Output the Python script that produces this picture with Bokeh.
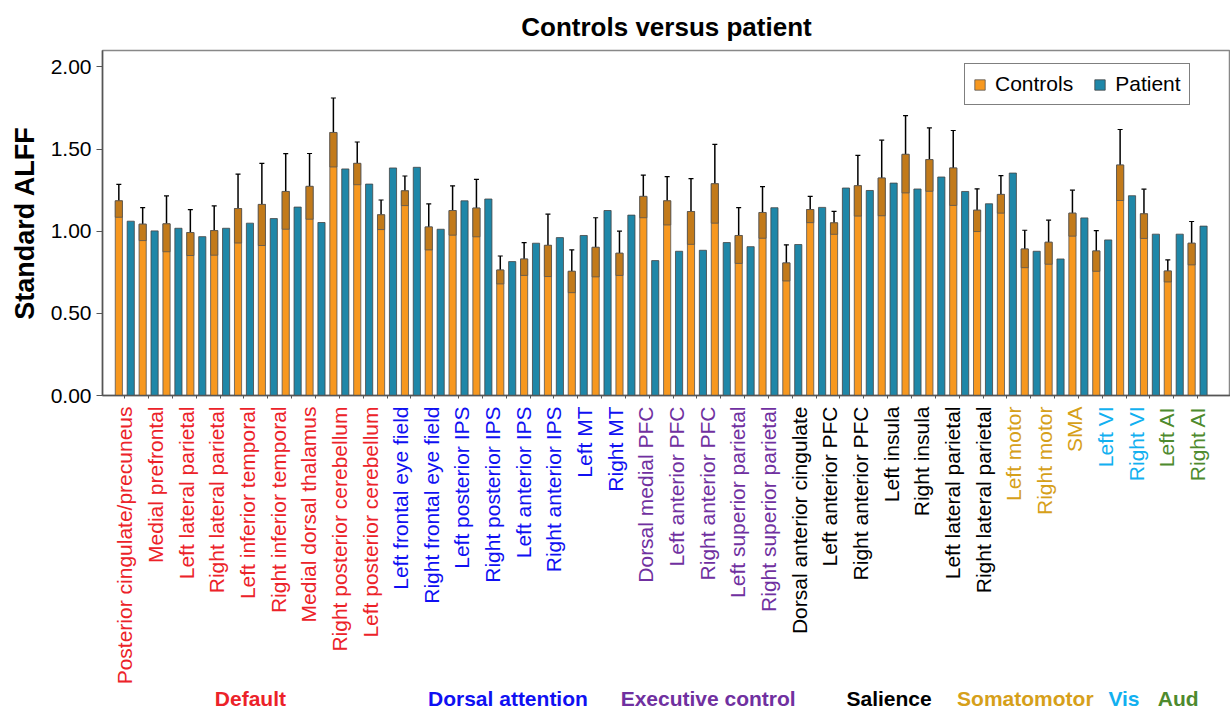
from math import pi
from bokeh.plotting import figure
from bokeh.layouts import column
from bokeh.core.properties import value
from bokeh.models import (ColumnDataSource, Whisker, FixedTicker, NumeralTickFormatter,
                          Range1d, Legend, LegendItem, TeeHead)
from bokeh.embed import file_html
from bokeh.resources import INLINE

# ---------------- data ----------------
controls = [1.185, 1.043, 1.045, 0.992, 1.004, 1.138, 1.163, 1.242, 1.273, 1.601, 1.413, 1.100, 1.246,
            1.026, 1.126, 1.141, 0.764, 0.831, 0.914, 0.756, 0.902, 0.866, 1.212, 1.185, 1.120, 1.289,
            0.974, 1.114, 0.807,
            1.132, 1.051, 1.277, 1.324, 1.468, 1.436, 1.385, 1.128, 1.224, 0.892, 0.933, 1.110, 0.880,
            1.403, 1.106, 0.758, 0.927]
controls_err = [0.10, 0.10, 0.17, 0.14, 0.15, 0.21, 0.25, 0.23, 0.20, 0.21, 0.13, 0.09, 0.09,
                0.14, 0.15, 0.175, 0.085, 0.10, 0.19, 0.13, 0.18, 0.135, 0.13, 0.147, 0.20, 0.24,
                0.17, 0.157, 0.11,
                0.08, 0.07, 0.185, 0.23, 0.235, 0.193, 0.228, 0.13, 0.114, 0.114, 0.134, 0.14, 0.124,
                0.216, 0.15, 0.067, 0.132]
patient = [1.061, 1.002, 1.018, 0.967, 1.018, 1.049, 1.077, 1.147, 1.053, 1.379, 1.287, 1.385, 1.389,
           1.012, 1.185, 1.196, 0.815, 0.927, 0.961, 0.974, 1.126, 1.098, 0.821, 0.878, 0.884, 0.931,
           0.906, 1.143, 0.919,
           1.145, 1.263, 1.248, 1.293, 1.257, 1.330, 1.242, 1.167, 1.354, 0.878, 0.831, 1.081, 0.947,
           1.216, 0.982, 0.982, 1.031]

regions = ["Posterior cingulate/precuneus", "Medial prefrontal", "Left lateral parietal",
           "Right lateral parietal", "Left inferior temporal", "Right inferior temporal",
           "Medial dorsal thalamus", "Right posterior cerebellum", "Left posterior cerebellum",
           "Left frontal eye field", "Right frontal eye field", "Left posterior IPS",
           "Right posterior IPS", "Left anterior IPS", "Right anterior IPS", "Left MT", "Right MT",
           "Dorsal medial PFC", "Left anterior PFC", "Right anterior PFC", "Left superior parietal",
           "Right superior parietal",
           "Dorsal anterior cingulate", "Left anterior PFC", "Right anterior PFC", "Left insula",
           "Right insula", "Left lateral parietal", "Right lateral parietal",
           "Left motor", "Right motor", "SMA", "Left VI", "Right VI", "Left AI", "Right AI"]

networks = ["Default", "Dorsal attention", "Executive control", "Salience", "Somatomotor", "Vis", "Aud"]
network_sizes = [9, 8, 5, 7, 3, 2, 2]
network_colors = ["#ec2229", "#1010f2", "#7030a0", "#000000", "#d6a01a", "#12b0f0", "#4e8a2e"]
network_label_shift = [3, 0, 1, -2, -19, 3, -4]   # px nudges of the network titles

series = ["Controls", "Patient"]
series_colors = ["#f7981f", "#1f87a8"]

# ---------------- derived ----------------
n = len(controls)
idx = list(range(n))
src = ColumnDataSource(dict(
    xc=[i - 0.25 for i in idx],
    xp=[i + 0.25 for i in idx],
    c=controls,
    p=patient,
    lo=[c - e for c, e in zip(controls, controls_err)],
    hi=[c + e for c, e in zip(controls, controls_err)],
))

nl = len(regions)
step = (n - 1) / (nl - 1)
lab_colors = []
grp_x = []
k = 0
for size, col in zip(network_sizes, network_colors):
    lab_colors += [col] * size
    grp_x.append((k + (size - 1) / 2) * step)
    k += size

TOP_H = 406
BOT_H = 709 - TOP_H

lab_src = ColumnDataSource(dict(x=[j * step for j in range(nl)], y=[0] * nl,
                                text=regions, color=lab_colors))
grp_src = ColumnDataSource(dict(x=grp_x, y=[698 - TOP_H] * len(networks), text=networks,
                                color=network_colors, dx=network_label_shift))

FONT = "Liberation Sans"
W = 1230
xr = Range1d(-0.935, 46.38)

p = figure(width=W, height=TOP_H, output_backend="svg", toolbar_location=None,
           x_range=xr, y_range=Range1d(0, 2.1),
           min_border_left=102, min_border_right=0, min_border_top=50,
           min_border_bottom=TOP_H - 395,
           title="Controls versus patient")
p.title.align = "center"
p.title.text_font = FONT
p.title.text_font_size = "26px"
p.title.text_font_style = "bold"
p.title.text_color = "black"
p.title.standoff = 18

p.xgrid.visible = False
p.ygrid.visible = False
p.outline_line_color = "#888888"
p.outline_line_width = 1.5

r1 = p.vbar(x="xc", top="c", width=0.3, source=src, fill_color=series_colors[0],
            line_color="#555555", line_width=0.8)
r2 = p.vbar(x="xp", top="p", width=0.3, source=src, fill_color=series_colors[1],
            line_color="#444444", line_width=0.8)
# darker band of the error range inside the control bars
p.vbar(x="xc", bottom="lo", top="c", width=0.3, source=src, fill_color="#c27a1a",
       line_color="#555555", line_width=0.8)

head = dict(size=5, line_color="black", line_width=1.2)
p.add_layout(Whisker(source=src, base="xc", upper="hi", lower="lo", line_color="black",
                     line_width=1.5, upper_head=TeeHead(**head), lower_head=TeeHead(**head)))

# axes
p.xaxis.ticker = FixedTicker(ticks=[], minor_ticks=idx)
p.xaxis.major_tick_line_color = None
p.xaxis.minor_tick_in = 0
p.xaxis.minor_tick_out = 3
p.xaxis.minor_tick_line_color = "#555555"
p.xaxis.minor_tick_line_width = 1
p.xaxis.axis_line_color = "#555555"
p.xaxis.axis_line_width = 1.5

p.yaxis.ticker = FixedTicker(ticks=[0, 0.5, 1.0, 1.5, 2.0])
p.yaxis.formatter = NumeralTickFormatter(format="0.00")
p.yaxis.major_label_text_font = FONT
p.yaxis.major_label_text_font_size = "21px"
p.yaxis.major_label_text_color = "black"
p.yaxis.major_tick_in = 0
p.yaxis.major_tick_out = 6
p.yaxis.minor_tick_line_color = None
p.yaxis.axis_line_color = "#555555"
p.yaxis.axis_line_width = 1.5
p.yaxis.major_tick_line_color = "#555555"
p.yaxis.axis_label = "Standard ALFF"
p.yaxis.axis_label_text_font = FONT
p.yaxis.axis_label_text_font_size = "27px"
p.yaxis.axis_label_text_font_style = "bold"
p.yaxis.axis_label_text_color = "black"
p.yaxis.axis_label_standoff = 8

legend = Legend(items=[LegendItem(label=series[0], renderers=[r1]),
                       LegendItem(label=series[1], renderers=[r2])],
                orientation="horizontal", location=(862, 290))
legend.border_line_color = "black"
legend.border_line_width = 1.5
legend.label_text_font = FONT
legend.label_text_font_size = "21px"
legend.label_text_color = "black"
legend.glyph_width = 13
legend.glyph_height = 13
legend.padding = 8
legend.spacing = 20
legend.label_standoff = 9
legend.margin = 0
p.add_layout(legend)

# label strip under the chart, sharing the x scale
q = figure(width=W, height=BOT_H, output_backend="svg", toolbar_location=None,
           x_range=xr, y_range=Range1d(BOT_H, 0),
           min_border_left=102, min_border_right=0, min_border_top=0, min_border_bottom=0,
           x_axis_location=None, y_axis_location=None)
q.xgrid.visible = False
q.ygrid.visible = False
q.outline_line_color = None
q.text(x="x", y="y", text="text", source=lab_src, angle=pi / 2, text_align="right",
       text_baseline="middle", text_color="color", text_font=value(FONT), text_font_size="21px")
q.text(x="x", y="y", text="text", source=grp_src, x_offset="dx", text_align="center",
       text_baseline="middle", text_color="color", text_font=value(FONT), text_font_size="21px",
       text_font_style="bold")

layout = column(p, q, spacing=0)
open("out.html", "w").write(file_html(layout, INLINE))
